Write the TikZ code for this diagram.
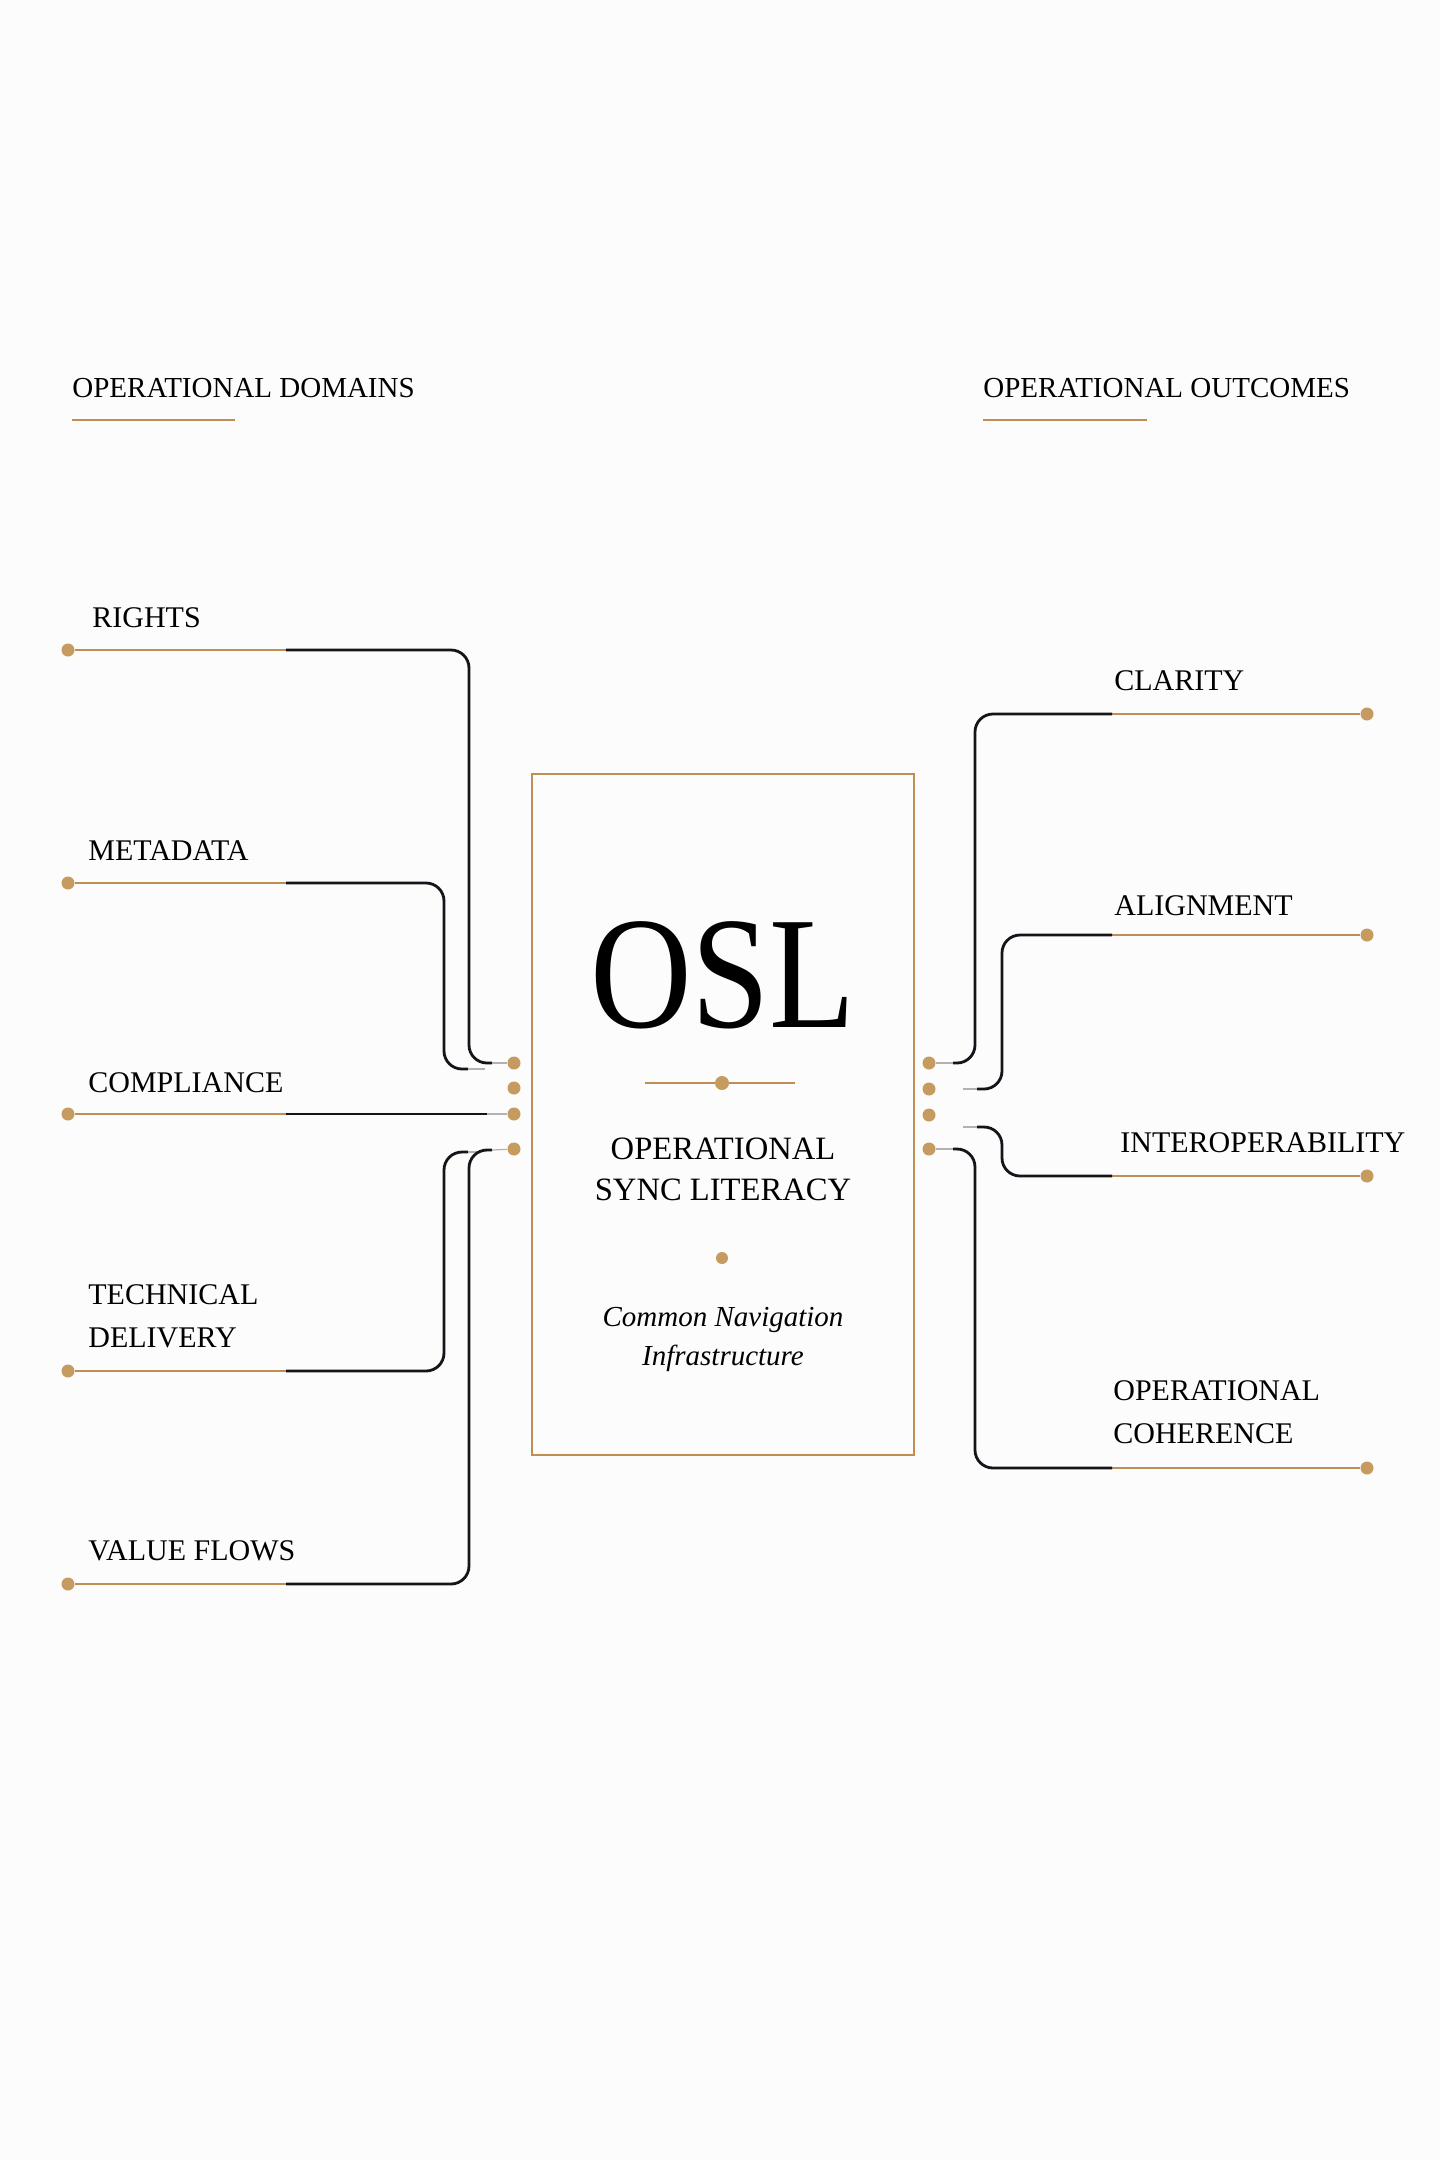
\documentclass[tikz,border=0pt]{standalone}
\usepackage{fontspec}
\setmainfont{Liberation Serif}
\definecolor{gold}{RGB}{197,155,95}
\definecolor{goldline}{RGB}{192,141,84}
\definecolor{ink}{RGB}{20,20,26}
\definecolor{paper}{RGB}{252,252,252}
\tikzset{
  itemlabel/.style={anchor=base west, inner sep=0pt, align=left, font=\fontsize{15}{21.5}\selectfont},
  headlabel/.style={anchor=base west, inner sep=0pt, font=\fontsize{14.5}{17}\selectfont},
  golddot/.style={circle, fill=gold, inner sep=0pt, minimum size=6.5pt},
  goldln/.style={draw=goldline, line width=1pt},
  darkln/.style={draw=ink, line width=1.4pt, rounded corners=9pt},
  fadeln/.style={draw=black!30, line width=0.6pt}
}

\begin{document}
\begin{tikzpicture}[x=0.5pt, y=-0.5pt]
\fill[paper] (0,0) rectangle (1440,2160);
\useasboundingbox (0,0) rectangle (1440,2160);

\node[headlabel] (domains) at (72,397) {OPERATIONAL DOMAINS};
\node[headlabel] (outcomes) at (983,397) {OPERATIONAL OUTCOMES};
\draw[goldln] (72,420) -- (235,420);
\draw[goldln] (983,420) -- (1147,420);

\node[draw=goldline, line width=1pt, minimum width=191pt, minimum height=340.5pt, inner sep=0pt] (oslbox) at (723,1114.5) {};
\node[anchor=base, inner sep=0pt, xscale=0.88, font=\fontsize{80}{80}\selectfont] (osl) at (723,1027) {OSL};
\node[golddot, minimum size=7pt] (midknot) at (722,1083) {};
\draw[goldln] (645,1083) -- (midknot) -- (795,1083);
\node[anchor=base, inner sep=0pt, align=center, font=\fontsize{16.3}{20.5}\selectfont] (title) at (723,1200) {OPERATIONAL\\SYNC LITERACY};
\node[golddot, minimum size=6pt] (lowknot) at (722,1258) {};
\node[anchor=base, inner sep=0pt, align=center, font=\fontsize{14.5}{19.5}\itshape] (subtitle) at (723,1365) {Common Navigation\\Infrastructure};

\node[golddot] (in1) at (514,1063) {};
\node[golddot] (in2) at (514,1088) {};
\node[golddot] (in3) at (514,1114) {};
\node[golddot] (in4) at (514,1149) {};
\node[golddot] (out1) at (929,1063) {};
\node[golddot] (out2) at (929,1089) {};
\node[golddot] (out3) at (929,1115) {};
\node[golddot] (out4) at (929,1149) {};

\node[itemlabel] (rights) at (92,627) {RIGHTS};
\node[itemlabel] (metadata) at (88,860) {METADATA};
\node[itemlabel] (compliance) at (88,1092) {COMPLIANCE};
\node[itemlabel] (technical) at (88,1347) {TECHNICAL\\DELIVERY};
\node[itemlabel] (valueflows) at (88,1560) {VALUE FLOWS};

\node[golddot] (rightsdot) at (68,650) {};
\node[golddot] (metadatadot) at (68,883) {};
\node[golddot] (compliancedot) at (68,1114) {};
\node[golddot] (technicaldot) at (68,1371) {};
\node[golddot] (valueflowsdot) at (68,1584) {};

\coordinate (rightsmid) at (286,650);
\coordinate (metadatamid) at (286,883);
\coordinate (compliancemid) at (286,1114);
\coordinate (technicalmid) at (286,1371);
\coordinate (valueflowsmid) at (286,1584);

\draw[goldln] (rightsdot) -- (rightsmid);
\draw[goldln] (metadatadot) -- (metadatamid);
\draw[goldln] (compliancedot) -- (compliancemid);
\draw[goldln] (technicaldot) -- (technicalmid);
\draw[goldln] (valueflowsdot) -- (valueflowsmid);

\draw[darkln] (rightsmid) -- (469,650) -- (469,1063) -- (492,1063);
\draw[fadeln] (492,1063) -- (in1);
\draw[darkln] (metadatamid) -- (444,883) -- (444,1069) -- (468,1069);
\draw[fadeln] (468,1069) -- (485,1069);
\draw[darkln] (compliancemid) -- (487,1114);
\draw[fadeln] (487,1114) -- (in3);
\draw[darkln] (technicalmid) -- (444,1371) -- (444,1152) -- (468,1152);
\draw[fadeln] (468,1152) -- (480,1152);
\draw[darkln] (valueflowsmid) -- (469,1584) -- (469,1150) -- (492,1150);
\draw[fadeln] (492,1150) -- (in4);

\node[itemlabel] (clarity) at (1114,690) {CLARITY};
\node[itemlabel] (alignment) at (1114,915) {ALIGNMENT};
\node[itemlabel] (interop) at (1120,1152) {INTEROPERABILITY};
\node[itemlabel] (coherence) at (1113,1443) {OPERATIONAL\\COHERENCE};

\node[golddot] (claritydot) at (1367,714) {};
\node[golddot] (alignmentdot) at (1367,935) {};
\node[golddot] (interopdot) at (1367,1176) {};
\node[golddot] (coherencedot) at (1367,1468) {};

\coordinate (claritymid) at (1112,714);
\coordinate (alignmentmid) at (1112,935);
\coordinate (interopmid) at (1112,1176);
\coordinate (coherencemid) at (1112,1468);

\draw[goldln] (claritydot) -- (claritymid);
\draw[goldln] (alignmentdot) -- (alignmentmid);
\draw[goldln] (interopdot) -- (interopmid);
\draw[goldln] (coherencedot) -- (coherencemid);

\draw[darkln] (claritymid) -- (975,714) -- (975,1063) -- (953,1063);
\draw[fadeln] (953,1063) -- (out1);
\draw[darkln] (alignmentmid) -- (1002,935) -- (1002,1089) -- (977,1089);
\draw[fadeln] (977,1089) -- (963,1089);
\draw[darkln] (interopmid) -- (1002,1176) -- (1002,1127) -- (977,1127);
\draw[fadeln] (977,1127) -- (963,1127);
\draw[darkln] (coherencemid) -- (975,1468) -- (975,1149) -- (953,1149);
\draw[fadeln] (953,1149) -- (out4);
\end{tikzpicture}
\end{document}
